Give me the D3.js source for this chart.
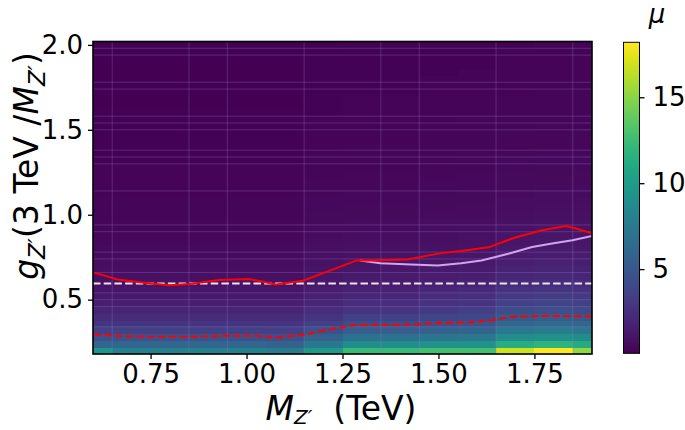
<!DOCTYPE html>
<html><head><meta charset="utf-8">
<script src="https://cdn.jsdelivr.net/npm/d3@7"></script>
<style>body{margin:0;background:#fff}svg{display:block}text{font-family:"DejaVu Sans",sans-serif;fill:#000}</style>
</head><body><svg id="c" width="685" height="430"></svg>
<script>
// ---------- data ----------
const massCenters = [0.6,0.7,0.8,0.9,1.0,1.1,1.2,1.3,1.4,1.5,1.6,1.7,1.8,1.9];
const gCenters = [0.20,0.24,0.28,0.32,0.36,0.40,0.44,0.48,0.52,0.56,0.60,0.64,0.68,0.72,0.76,0.80,0.84,0.88,0.92,0.96,1.00,1.04,1.08,1.12,1.16,1.20,1.24,1.28,1.32,1.36,1.40,1.44,1.48,1.52,1.56,1.60,1.64,1.68,1.72,1.76,1.80,1.84,1.88,1.92,1.96,2.00];
const mu_M060 = [9.6,6.0,4.5,3.6,2.9,2.3,1.9,1.6,1.3,1.1,1.0,0.85,0.75,0.68,0.6,0.55,0.5,0.45,0.42,0.39,0.36,0.34,0.32,0.3,0.28,0.27,0.26,0.25,0.24,0.23,0.22,0.21,0.2,0.19,0.18,0.18,0.17,0.16,0.16,0.15,0.15,0.14,0.14,0.13,0.13,0.12];
const mu_M070 = [8.0,6.0,4.5,3.6,2.9,2.3,1.9,1.6,1.3,1.1,1.0,0.85,0.75,0.68,0.6,0.55,0.5,0.45,0.42,0.39,0.36,0.34,0.32,0.3,0.28,0.27,0.26,0.25,0.24,0.23,0.22,0.21,0.2,0.19,0.18,0.18,0.17,0.16,0.16,0.15,0.15,0.14,0.14,0.13,0.13,0.12];
const mu_M080 = [8.0,6.0,4.5,3.6,2.9,2.3,1.9,1.6,1.3,1.1,0.98,0.84,0.74,0.67,0.6,0.55,0.5,0.45,0.42,0.39,0.36,0.34,0.32,0.3,0.28,0.27,0.26,0.25,0.24,0.23,0.22,0.21,0.2,0.19,0.18,0.18,0.17,0.16,0.16,0.15,0.15,0.14,0.14,0.13,0.13,0.12];
const mu_M090 = [8.0,6.0,4.5,3.6,2.9,2.3,1.9,1.6,1.3,1.1,1.0,0.85,0.75,0.68,0.6,0.55,0.5,0.45,0.42,0.39,0.36,0.34,0.32,0.3,0.28,0.27,0.26,0.25,0.24,0.23,0.22,0.21,0.2,0.19,0.18,0.18,0.17,0.16,0.16,0.15,0.15,0.14,0.14,0.13,0.13,0.12];
const mu_M100 = [8.0,6.0,4.5,3.6,2.9,2.3,1.9,1.6,1.3,1.1,1.02,0.86,0.76,0.68,0.6,0.55,0.5,0.45,0.42,0.39,0.36,0.34,0.32,0.3,0.28,0.27,0.26,0.25,0.24,0.23,0.22,0.21,0.2,0.19,0.18,0.18,0.17,0.16,0.16,0.15,0.15,0.14,0.14,0.13,0.13,0.12];
const mu_M110 = [7.6,5.8,4.4,3.5,2.8,2.3,1.9,1.6,1.3,1.1,1.0,0.85,0.75,0.68,0.6,0.55,0.5,0.45,0.42,0.39,0.36,0.34,0.32,0.3,0.28,0.27,0.26,0.25,0.24,0.23,0.22,0.21,0.2,0.19,0.18,0.18,0.17,0.16,0.16,0.15,0.15,0.14,0.14,0.13,0.13,0.12];
const mu_M120 = [9.8,7.4,5.7,4.5,3.6,2.9,2.4,2.0,1.7,1.45,1.28,1.14,1.03,0.93,0.85,0.78,0.72,0.66,0.61,0.57,0.53,0.5,0.47,0.44,0.41,0.39,0.37,0.35,0.33,0.31,0.3,0.29,0.27,0.26,0.25,0.24,0.23,0.22,0.21,0.21,0.2,0.19,0.19,0.18,0.18,0.17];
const mu_M130 = [12.4,9.0,6.9,5.4,4.3,3.5,2.9,2.4,2.05,1.75,1.5,1.32,1.16,1.02,0.92,0.84,0.77,0.71,0.66,0.61,0.57,0.53,0.5,0.47,0.44,0.42,0.4,0.38,0.36,0.34,0.32,0.31,0.3,0.29,0.28,0.27,0.26,0.25,0.24,0.23,0.22,0.21,0.21,0.2,0.2,0.19];
const mu_M140 = [12.4,9.0,6.9,5.4,4.3,3.5,2.9,2.4,2.05,1.75,1.52,1.34,1.18,1.04,0.93,0.85,0.78,0.72,0.66,0.61,0.57,0.53,0.5,0.47,0.44,0.42,0.4,0.38,0.36,0.34,0.32,0.31,0.3,0.29,0.28,0.27,0.26,0.25,0.24,0.23,0.22,0.21,0.21,0.2,0.2,0.19];
const mu_M150 = [12.8,9.2,7.1,5.7,4.6,3.8,3.2,2.7,2.3,2.0,1.72,1.5,1.32,1.17,1.04,0.94,0.86,0.79,0.73,0.68,0.63,0.59,0.55,0.52,0.49,0.46,0.44,0.42,0.4,0.38,0.36,0.35,0.33,0.32,0.31,0.3,0.29,0.28,0.27,0.26,0.25,0.24,0.23,0.23,0.22,0.21];
const mu_M160 = [12.8,9.3,7.3,5.9,4.8,4.0,3.4,2.9,2.5,2.15,1.86,1.62,1.43,1.27,1.13,1.01,0.92,0.84,0.77,0.71,0.66,0.62,0.58,0.54,0.51,0.48,0.46,0.44,0.42,0.4,0.38,0.36,0.35,0.33,0.32,0.31,0.3,0.29,0.28,0.27,0.26,0.25,0.24,0.24,0.23,0.22];
const mu_M170 = [16.8,11.4,9.0,7.4,6.0,5.0,4.3,3.6,3.1,2.7,2.35,2.05,1.8,1.6,1.42,1.27,1.14,1.03,0.94,0.86,0.79,0.73,0.68,0.63,0.59,0.56,0.53,0.5,0.47,0.45,0.43,0.41,0.39,0.37,0.36,0.34,0.33,0.32,0.31,0.3,0.29,0.28,0.27,0.26,0.25,0.24];
const mu_M180 = [18.2,11.8,9.2,7.6,6.2,5.2,4.4,3.8,3.3,2.9,2.5,2.2,1.95,1.74,1.55,1.39,1.25,1.13,1.02,0.93,0.85,0.78,0.72,0.67,0.63,0.59,0.56,0.53,0.5,0.47,0.45,0.43,0.41,0.39,0.37,0.36,0.35,0.33,0.32,0.31,0.3,0.29,0.28,0.27,0.26,0.25];
const mu_M190 = [15.2,11.2,8.8,7.3,6.0,5.0,4.2,3.6,3.1,2.7,2.35,2.05,1.82,1.62,1.45,1.3,1.17,1.06,0.96,0.88,0.81,0.75,0.69,0.64,0.6,0.57,0.54,0.51,0.48,0.46,0.44,0.42,0.4,0.38,0.36,0.35,0.34,0.33,0.32,0.31,0.3,0.29,0.28,0.27,0.26,0.25];
const muColumns = [mu_M060,mu_M070,mu_M080,mu_M090,mu_M100,mu_M110,mu_M120,mu_M130,mu_M140,mu_M150,mu_M160,mu_M170,mu_M180,mu_M190];

// observed limit (red solid)
const obsM = [0.603,0.664,0.726,0.80,0.858,0.928,1.007,1.077,1.147,1.217,1.287,1.331,1.419,1.507,1.559,1.630,1.70,1.77,1.832,1.858,1.9];
const obsG = [0.659,0.619,0.601,0.585,0.593,0.615,0.621,0.589,0.611,0.671,0.731,0.731,0.736,0.774,0.786,0.808,0.866,0.909,0.933,0.919,0.89];
// expected limit (lavender)
const expM = [1.296,1.349,1.428,1.498,1.559,1.612,1.682,1.744,1.796,1.849,1.9];
const expG = [0.731,0.715,0.707,0.701,0.715,0.731,0.770,0.810,0.830,0.850,0.875];
// red dashed
const dashM = [0.603,0.682,0.77,0.858,0.945,1.015,1.077,1.156,1.208,1.279,1.384,1.446,1.498,1.586,1.648,1.691,1.779,1.9];
const dashG = [0.295,0.285,0.281,0.281,0.288,0.288,0.278,0.295,0.321,0.351,0.351,0.355,0.363,0.367,0.381,0.40,0.405,0.401];
// reference coupling (white dashed)
const refG = 0.595;

const xTicks = [0.75,1.00,1.25,1.50,1.75];
const yTicks = [0.5,1.0,1.5,2.0];
const cbTicks = [5,10,15];
const muRange = [0.1,18.2];
const cellEdgeM = [0.65,0.85,0.95,1.15,1.35,1.45,1.65,1.85];
const cellEdgeG = [0.34,0.46,0.50,0.54,0.66,0.74,0.78,0.90,0.94,1.14,1.30,1.34,1.38,1.50,1.54,1.58,1.74,1.78,1.94,1.98];

// ---------- drawing ----------
const svg = d3.select('#c');
const PL=93, PR=592, PT=41.5, PB=354;
const x = d3.scaleLinear().domain([0.6,1.9]).range([PL,PR]);
const y = d3.scaleLinear().domain([0.18,2.02]).range([PB,PT]);
const color = d3.scaleSequential(d3.interpolateViridis).domain(muRange);

const defs = svg.append('defs');
defs.append('clipPath').attr('id','clip').append('rect')
  .attr('x',PL).attr('y',PT).attr('width',PR-PL).attr('height',PB-PT);

const dm = 0.05, dg = 0.02;
const cells = [];
massCenters.forEach((m,i)=>gCenters.forEach((g,j)=>cells.push({m,g,v:muColumns[i][j]})));
const plot = svg.append('g').attr('clip-path','url(#clip)');
plot.selectAll('rect.cell').data(cells).join('rect').attr('class','cell')
  .attr('x',d=>x(d.m-dm)).attr('width',d=>x(d.m+dm)-x(d.m-dm)+0.5)
  .attr('y',d=>y(d.g+dg)).attr('height',d=>y(d.g-dg)-y(d.g+dg)+0.5)
  .attr('fill',d=>color(d.v)).attr('shape-rendering','crispEdges');

// faint cell edges
plot.selectAll('line.vg').data(cellEdgeM).join('line')
  .attr('x1',d=>x(d)).attr('x2',d=>x(d)).attr('y1',PT).attr('y2',PB)
  .attr('stroke','#9a7ad0').attr('stroke-opacity',0.3).attr('stroke-width',1);
plot.selectAll('line.hg').data(cellEdgeG).join('line')
  .attr('y1',d=>y(d)).attr('y2',d=>y(d)).attr('x1',PL).attr('x2',PR)
  .attr('stroke','#9a7ad0').attr('stroke-opacity',0.3).attr('stroke-width',1);

const line = d3.line().x(d=>x(d[0])).y(d=>y(d[1])).curve(d3.curveLinear);
plot.append('line').attr('x1',PL).attr('x2',PR).attr('y1',y(refG)).attr('y2',y(refG))
  .attr('stroke','#ebe3f3').attr('stroke-width',2).attr('stroke-dasharray','7.5,3.2');
plot.append('path').datum(dashM.map((m,i)=>[m,dashG[i]])).attr('d',line)
  .attr('fill','none').attr('stroke','#ff0000').attr('stroke-width',2).attr('stroke-dasharray','7.5,3.2');
plot.append('path').datum(expM.map((m,i)=>[m,expG[i]])).attr('d',line)
  .attr('fill','none').attr('stroke','#d3a3ee').attr('stroke-width',2);
plot.append('path').datum(obsM.map((m,i)=>[m,obsG[i]])).attr('d',line)
  .attr('fill','none').attr('stroke','#ff0000').attr('stroke-width',2);

// frame
svg.append('rect').attr('x',PL).attr('y',PT).attr('width',PR-PL).attr('height',PB-PT)
  .attr('fill','none').attr('stroke','#000').attr('stroke-width',1.6);

// axes
const xAxis = svg.append('g').attr('transform',`translate(0,${PB})`)
  .call(d3.axisBottom(x).tickValues(xTicks).tickFormat(d3.format('.2f')).tickSize(5).tickPadding(6));
const yAxis = svg.append('g').attr('transform',`translate(${PL},0)`)
  .call(d3.axisLeft(y).tickValues(yTicks).tickFormat(d3.format('.1f')).tickSize(5).tickPadding(5));
[xAxis,yAxis].forEach(a=>{
  a.select('.domain').remove();
  a.selectAll('.tick line').attr('stroke','#000').attr('stroke-width',1.3);
  a.selectAll('.tick text').attr('font-size',26).attr('font-family','DejaVu Sans').attr('fill','#000');
});

// colorbar
const CBX=623.5, CBW=16, CBT=42.3, CBB=353.3;
const cy = d3.scaleLinear().domain(muRange).range([CBB,CBT]);
const grad = defs.append('linearGradient').attr('id','vir').attr('x1','0').attr('y1','1').attr('x2','0').attr('y2','0');
d3.range(0,1.0001,0.05).forEach(t=>grad.append('stop').attr('offset',t).attr('stop-color',d3.interpolateViridis(t)));
svg.append('rect').attr('x',CBX).attr('y',CBT).attr('width',CBW).attr('height',CBB-CBT)
  .attr('fill','url(#vir)').attr('stroke','#000').attr('stroke-width',1);
const cbAxis = svg.append('g').attr('transform',`translate(${CBX+CBW},0)`)
  .call(d3.axisRight(cy).tickValues(cbTicks).tickSize(5).tickPadding(8));
cbAxis.select('.domain').remove();
cbAxis.selectAll('.tick line').attr('stroke','#000').attr('stroke-width',1.3);
cbAxis.selectAll('.tick text').attr('font-size',26).attr('font-family','DejaVu Sans').attr('fill','#000');

svg.append('text').attr('x',657).attr('y',23).attr('text-anchor','middle')
  .attr('font-size',26).attr('font-style','italic').text('μ');

// axis labels
const xl = svg.append('text').attr('x',341).attr('y',420).attr('text-anchor','middle').attr('font-size',33);
xl.append('tspan').attr('font-style','italic').text('M');
xl.append('tspan').attr('font-size',20).attr('dy',4).attr('font-style','italic').text('Z′');
xl.append('tspan').attr('dy',-4).text('\u00a0\u00a0(TeV)');

const yl = svg.append('text').attr('transform','translate(38,166) rotate(-90)').attr('text-anchor','middle').attr('font-size',33);
yl.append('tspan').attr('font-style','italic').text('g');
yl.append('tspan').attr('font-size',23).attr('dy',7).attr('font-style','italic').text('Z′');
yl.append('tspan').attr('dy',-7).text('(3 TeV /');
yl.append('tspan').attr('font-style','italic').text('M');
yl.append('tspan').attr('font-size',23).attr('dy',7).attr('font-style','italic').text('Z′');
yl.append('tspan').attr('dy',-7).text(')');
</script></body></html>
